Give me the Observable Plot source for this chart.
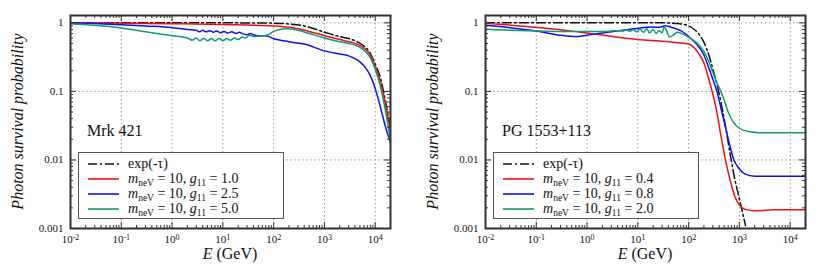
<!DOCTYPE html>
<html><head><meta charset="utf-8">
<script src="https://cdn.jsdelivr.net/npm/d3@7"></script>
<script src="https://cdn.jsdelivr.net/npm/@observablehq/plot@0.6"></script>
<style>
body{margin:0;background:#fff;font-family:"Liberation Serif",serif;}
#wrap{position:relative;width:830px;height:272px;display:flex;}
.panel{position:relative;width:415px;height:272px;}
.panel svg{display:block;font-family:"Liberation Serif",serif !important;}
.panel svg text{font-family:"Liberation Serif",serif !important;}
.legend{position:absolute;left:78px;top:152px;width:206px;height:67px;border:1px solid #555;background:#fff;box-sizing:border-box;}
.row{position:absolute;left:0;height:15px;font-size:14px;line-height:15px;white-space:nowrap;color:#111;}
.row svg{position:absolute;left:8px;top:2px;}
.row span.t{position:absolute;left:49px;top:-1px;}
.row sub{font-size:9.5px;vertical-align:-3px;line-height:0;}
.src{position:absolute;left:87px;top:122px;font-size:16px;color:#111;}
</style></head>
<body><div id="wrap"></div>
<script>
// ---------- axis ticks / labels ----------
const xMajor = [1e-2, 1e-1, 1, 1e1, 1e2, 1e3, 1e4];
const xTickLabels = ["10^-2", "10^-1", "10^0", "10^1", "10^2", "10^3", "10^4"];
const yMajor = [0.001, 0.01, 0.1, 1];
const yTickLabels = ["0.001", "0.01", "0.1", "1"];
const xDomain = [0.01, 20000];
const yDomain = [0.001, 1.28];

// ---------- Mrk 421 (E in GeV, survival probability) ----------
const mrkTau = [[0.01,1],[1,1],[10,1],[100,0.99],[200,0.96],[400,0.9],[700,0.8],[1000,0.73],[1300,0.69],[2000,0.63],[3000,0.59],[4400,0.53],[6000,0.46],[8000,0.36],[10000,0.25],[12600,0.16],[15000,0.09],[17500,0.05],[20000,0.03]];
const mrkG10 = [[0.01,1.0],[0.1,0.99],[1,0.97],[10,0.95],[30,0.93],[100,0.9],[200,0.86],[300,0.82],[500,0.75],[1000,0.65],[2000,0.57],[3000,0.53],[4400,0.49],[6000,0.43],[8000,0.34],[10000,0.23],[12600,0.14],[15000,0.08],[17500,0.045],[20000,0.027]];
const mrkG25 = [[0.01,1.0],[0.03,0.98],[0.1,0.94],[0.3,0.9],[1,0.85],[2,0.8],[3,0.78],[3.5,0.74],[4,0.78],[4.7,0.74],[5.5,0.77],[6.5,0.73],[7.5,0.76],[9,0.72],[10.5,0.75],[12.5,0.71],[15,0.74],[18,0.7],[21,0.73],[25,0.69],[30,0.67],[34,0.7],[40,0.67],[50,0.65],[70,0.65],[85,0.62],[100,0.59],[200,0.53],[400,0.49],[1000,0.39],[2000,0.35],[3000,0.33],[4000,0.3],[5000,0.27],[6500,0.22],[8000,0.17],[10000,0.11],[12600,0.06],[15000,0.036],[17500,0.024],[20000,0.018]];
const mrkG50 = [[0.01,0.97],[0.03,0.92],[0.1,0.84],[0.3,0.74],[1,0.65],[2,0.6],[2.5,0.56],[3,0.6],[3.5,0.55],[4.2,0.59],[5,0.55],[6,0.59],[7,0.55],[8.5,0.59],[10,0.55],[12,0.59],[14,0.56],[17,0.6],[20,0.57],[24,0.62],[28,0.6],[33,0.66],[40,0.63],[50,0.64],[65,0.65],[80,0.68],[100,0.75],[130,0.8],[170,0.82],[220,0.81],[300,0.78],[500,0.7],[1000,0.6],[2000,0.53],[3000,0.5],[4400,0.46],[6000,0.4],[8000,0.31],[10000,0.21],[12600,0.12],[15000,0.065],[17500,0.035],[20000,0.019]];

// ---------- PG 1553+113 ----------
const pgTau = [[0.01,1],[1,1],[10,1],[30,1],[60,0.98],[80,0.95],[100,0.9],[130,0.8],[160,0.68],[200,0.52],[250,0.34],[300,0.21],[390,0.1],[500,0.04],[660,0.012],[800,0.0055],[1000,0.0027],[1200,0.0015],[1320,0.0011]];
const pgG04 = [[0.01,0.99],[0.1,0.86],[0.43,0.77],[1,0.71],[10,0.57],[20,0.55],[30,0.54],[50,0.52],[100,0.49],[130,0.43],[160,0.35],[200,0.26],[250,0.15],[290,0.1],[350,0.055],[430,0.023],[530,0.01],[650,0.0052],[800,0.003],[1000,0.0022],[1300,0.0019],[2000,0.00182],[3000,0.00183],[5000,0.00188],[20000,0.00188]];
const pgG08 = [[0.01,0.92],[0.03,0.85],[0.1,0.76],[0.3,0.66],[0.6,0.63],[1,0.66],[2,0.71],[5,0.78],[10,0.83],[15,0.86],[20,0.87],[25,0.86],[30,0.88],[35,0.91],[40,0.89],[50,0.84],[70,0.77],[100,0.63],[150,0.47],[200,0.34],[250,0.22],[300,0.15],[360,0.1],[450,0.05],[550,0.027],[650,0.016],[780,0.01],[1000,0.0074],[1300,0.0062],[2000,0.0058],[20000,0.0058]];
const pgG20 = [[0.01,0.81],[0.03,0.78],[0.1,0.76],[0.3,0.75],[1,0.75],[2,0.75],[3,0.76],[4,0.77],[5,0.76],[6,0.79],[7,0.75],[8,0.8],[9.5,0.74],[11,0.81],[13,0.73],[15,0.82],[17,0.71],[20,0.8],[23,0.7],[26,0.77],[30,0.72],[33,0.86],[36,0.8],[42,0.62],[50,0.66],[60,0.73],[75,0.69],[100,0.62],[150,0.5],[200,0.38],[250,0.27],[300,0.19],[350,0.14],[430,0.1],[500,0.075],[600,0.05],[750,0.036],[1000,0.029],[1500,0.026],[2500,0.025],[20000,0.025]];

const colors = {tau:"#111", red:"#f01010", blue:"#1010f0", green:"#129a78"};
const tauDash = "9,3,2,3";

const minorX = [];
for (let k=-2;k<=4;k++) for (let m=2;m<=9;m++){const v=m*Math.pow(10,k); if(v<=20000) minorX.push(v);}
const minorY = [];
for (let k=-3;k<=-1;k++) for (let m=2;m<=9;m++) minorY.push(m*Math.pow(10,k));

const NS="http://www.w3.org/2000/svg";
const SERIF="Liberation Serif, serif";
function panel(series, name, legendRows){
  const W=415,H=272,mL=70,mR=25,mT=15,mB=44;
  const fw=W-mL-mR, fh=H-mT-mB;
  const grid={stroke:"#999",strokeDasharray:"1.5,2.5",strokeOpacity:1,strokeWidth:1};
  const tk={stroke:"#333",strokeWidth:1};
  const marks=[
    Plot.ruleX(xMajor,{x:d=>d,...grid}),
    Plot.ruleY(yMajor,{y:d=>d,...grid}),
    ...series.map(s=>Plot.line(s.data,{x:d=>d[0],y:d=>d[1],stroke:s.color,strokeWidth:1.5,strokeDasharray:s.dash,curve:"monotone-x",clip:true})),
    Plot.tickX(xMajor,{x:d=>d,insetTop:fh-6,...tk}),
    Plot.tickX(xMajor,{x:d=>d,insetBottom:fh-6,...tk}),
    Plot.tickX(minorX,{x:d=>d,insetTop:fh-3,...tk}),
    Plot.tickX(minorX,{x:d=>d,insetBottom:fh-3,...tk}),
    Plot.tickY(yMajor,{y:d=>d,insetRight:fw-6,...tk}),
    Plot.tickY(yMajor,{y:d=>d,insetLeft:fw-6,...tk}),
    Plot.tickY(minorY,{y:d=>d,insetRight:fw-3,...tk}),
    Plot.tickY(minorY,{y:d=>d,insetLeft:fw-3,...tk}),
    Plot.frame({stroke:"#333",strokeWidth:2}),
    Plot.axisX(xMajor,{tickFormat:d=>xTickLabels[xMajor.indexOf(d)],tickSize:0,tickPadding:7,label:null,fontSize:11}),
    Plot.axisY(yMajor,{tickFormat:d=>yTickLabels[yMajor.indexOf(d)],tickSize:0,tickPadding:7,label:null,fontSize:11})
  ];
  const svg = Plot.plot({
    width:W,height:H,marginLeft:mL,marginRight:mR,marginTop:mT,marginBottom:mB,
    x:{type:"log",domain:xDomain},
    y:{type:"log",domain:yDomain},
    style:{fontFamily:SERIF,fontSize:"11px",color:"#111",background:"#fff"},
    marks
  });
  svg.setAttribute("font-family",SERIF);
  // superscript exponents on x tick labels
  svg.querySelectorAll("text").forEach(t=>{
    const m=t.textContent.match(/^10\^(.+)$/);
    if(m){
      t.textContent="";
      const a=document.createElementNS(NS,"tspan"); a.textContent="10"; t.appendChild(a);
      const b=document.createElementNS(NS,"tspan"); b.setAttribute("dy","-0.45em"); b.setAttribute("font-size","8px"); b.textContent=m[1]; t.appendChild(b);
    }
  });
  // axis titles
  const s=d3.select(svg);
  const xl=s.append("text").attr("x",mL+fw/2).attr("y",259).attr("text-anchor","middle").attr("font-size",16).attr("font-family",SERIF).attr("fill","#111");
  xl.append("tspan").attr("font-style","italic").text("E");
  xl.append("tspan").text(" (GeV)");
  s.append("text").attr("transform",`translate(23,${mT+fh/2}) rotate(-90)`).attr("text-anchor","middle").attr("font-family",SERIF)
    .attr("font-size",16).attr("font-style","italic").attr("fill","#111").text("Photon survival probability");

  const div=document.createElement("div"); div.className="panel";
  div.appendChild(svg);
  const src=document.createElement("div"); src.className="src"; src.textContent=name; div.appendChild(src);
  const lg=document.createElement("div"); lg.className="legend";
  legendRows.forEach((r,i)=>{
    const row=document.createElement("div"); row.className="row"; row.style.top=(4+15*i)+"px"; row.style.width="200px";
    row.innerHTML=`<svg width="34" height="10"><line x1="1" y1="5" x2="32" y2="5" stroke="${r.color}" stroke-width="1.6" ${r.dash?`stroke-dasharray="${r.dash}"`:""}/></svg><span class="t">${r.html}</span>`;
    lg.appendChild(row);
  });
  div.appendChild(lg);
  return div;
}
function lab(g){return `<i>m</i><sub>neV</sub> = 10, <i>g</i><sub>11</sub> = ${g}`;}
const wrap=document.getElementById("wrap");
wrap.appendChild(panel(
  [{data:mrkTau,color:colors.tau,dash:tauDash},{data:mrkG10,color:colors.red},{data:mrkG25,color:colors.blue},{data:mrkG50,color:colors.green}],
  "Mrk 421",
  [{color:colors.tau,dash:tauDash,html:"exp(-τ)"},{color:colors.red,html:lab("1.0")},{color:colors.blue,html:lab("2.5")},{color:colors.green,html:lab("5.0")}]
));
wrap.appendChild(panel(
  [{data:pgTau,color:colors.tau,dash:tauDash},{data:pgG04,color:colors.red},{data:pgG08,color:colors.blue},{data:pgG20,color:colors.green}],
  "PG 1553+113",
  [{color:colors.tau,dash:tauDash,html:"exp(-τ)"},{color:colors.red,html:lab("0.4")},{color:colors.blue,html:lab("0.8")},{color:colors.green,html:lab("2.0")}]
));
</script></body></html>
